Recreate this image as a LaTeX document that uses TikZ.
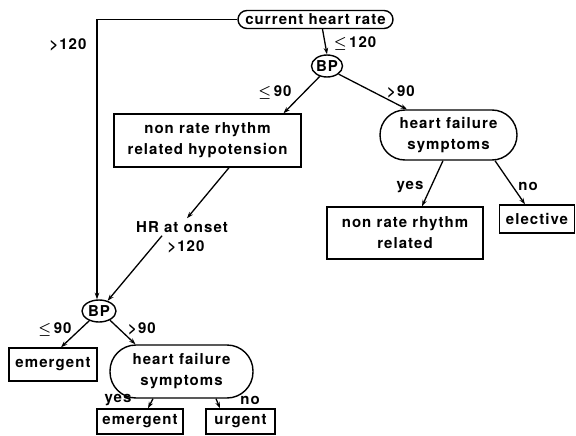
\documentclass[tikz,border=0pt]{standalone}
\usepackage{amsmath}
\usepackage{fontspec}
\setmainfont{TeX Gyre Heros}[LetterSpace=7]
\usetikzlibrary{arrows.meta,shapes.geometric}
\begin{document}
\begin{tikzpicture}[x=1pt,y=-1pt,
  every node/.style={font=\fontsize{15}{21}\selectfont\bfseries, inner sep=0pt},
  ell/.style={draw, ellipse, line width=1.4pt, minimum width=34pt, minimum height=22pt},
  arr/.style={line width=1.3pt, -{Stealth[length=6.5pt,width=4.5pt]}}]
\useasboundingbox (0,0) rectangle (576,436);
% nodes
\node[draw, line width=1.4pt, rounded corners=9pt, minimum width=155pt, minimum height=18pt] (chr) at (315.5,19.5) {current heart rate};
\node[ell, minimum width=31pt] (bp1) at (327,66) {BP};
\node[draw, line width=1.4pt, minimum width=187pt, minimum height=53pt, align=center] (hyp) at (207.5,140.5) {non rate rhythm\\related hypotension};
\node[draw, line width=1.4pt, rounded corners=25pt, minimum width=137pt, minimum height=50pt, align=center] (hf1) at (448.5,135) {heart failure\\symptoms};
\node[draw, line width=1.4pt, minimum width=156pt, minimum height=52pt, align=center] (nrr) at (405,233) {non rate rhythm\\related};
\node[draw, line width=1.4pt, minimum width=75pt, minimum height=28pt] (elec) at (537,219) {elective};
\node[inner sep=3pt] (onset) at (182,227) {HR at onset};
\node[ell] (bp2) at (99,311) {BP};
\node[draw, line width=1.4pt, minimum width=88pt, minimum height=33pt] (emg1) at (53,364.5) {emergent};
\node[draw, line width=1.4pt, rounded corners=26pt, minimum width=143pt, minimum height=53pt, align=center] (hf2) at (181.5,371.5) {heart failure\\symptoms};
\node[draw, line width=1.4pt, minimum width=86pt, minimum height=25pt] (emg2) at (140,421.5) {emergent};
\node[draw, line width=1.4pt, minimum width=69pt, minimum height=25pt] (urg) at (240.5,421.5) {urgent};
% labels
\node (l1) at (68,45) {>120};
\node (l2) at (355,43) {$\boldsymbol{\leq}$\,120};
\node (l3) at (275,92) {$\boldsymbol{\leq}$\,90};
\node (l4) at (401,92) {>90};
\node (l5) at (410,187) {yes};
\node (l6) at (528,186) {no};
\node (l7) at (186,247) {>120};
\node (l8) at (55,329) {$\boldsymbol{\leq}$\,90};
\node (l9) at (142,329) {>90};
\node (l10) at (118,400) {yes};
\node (l11) at (250,400) {no};
% connectors
\draw[arr] (chr.west) -| ([xshift=-2pt]bp2.north);
\draw[arr] ([xshift=7pt]chr.south) -- (bp1.north);
\draw[arr] (bp1.235) -- ([xshift=76pt]hyp.north);
\draw[arr] (bp1.-35) -- ([xshift=-41.5pt]hf1.north);
\draw[arr] ([xshift=21.5pt]hyp.south) -- ([xshift=5pt]onset.north);
\draw[arr] ([xshift=-20pt]onset.south) -- (bp2.50);
\draw[arr] (bp2.225) -- ([xshift=8pt]emg1.north);
\draw[arr] (bp2.-40) -- ([xshift=-46pt]hf2.north);
\draw[arr] ([xshift=-28.5pt]hf2.south) -- ([xshift=8pt]emg2.north);
\draw[arr] ([xshift=34.5pt]hf2.south) -- ([xshift=-20.5pt]urg.north);
\draw[arr] ([xshift=-5.5pt]hf1.south) -- ([xshift=17pt]nrr.north);
\draw[arr] ([xshift=46.5pt]hf1.south) -- ([xshift=-12pt]elec.north);
\end{tikzpicture}
\end{document}
